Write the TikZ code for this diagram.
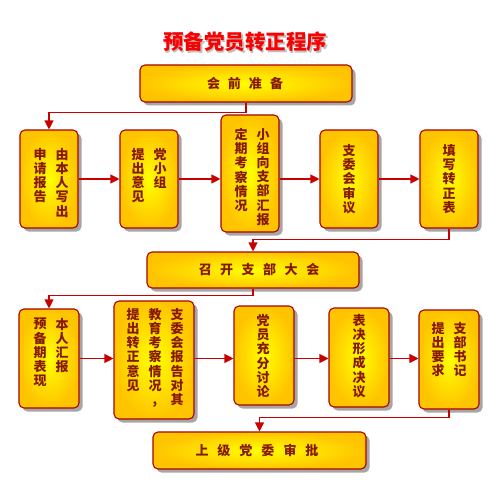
\documentclass[tikz,border=0pt]{standalone}
\usepackage{fontspec}
\setmainfont{Noto Sans CJK SC}
\usetikzlibrary{arrows.meta,shadows}
\definecolor{boxborder}{RGB}{170,0,0}
\definecolor{conncol}{RGB}{200,0,0}
\definecolor{txtcol}{RGB}{135,25,0}
\definecolor{ycenter}{RGB}{255,255,0}
\definecolor{yedge}{RGB}{255,196,0}
\definecolor{titlecol}{RGB}{250,0,0}
\begin{document}
\begin{tikzpicture}[x=1pt,y=-1pt,
  box/.style={draw=boxborder, line width=1.1pt, rounded corners=5pt, inner sep=0pt,
    inner color=ycenter, outer color=yedge,
    drop shadow={shadow xshift=3.5pt, shadow yshift=-3.5pt, fill=black, opacity=0.35}},
  col/.style={anchor=north, align=center, inner sep=0pt, text=txtcol,
    font=\fontsize{13}{14.2}\selectfont\bfseries},
  ctr/.style={inner sep=0pt, align=center, text=txtcol, font=\fontsize{13}{14.2}\selectfont\bfseries},
  conn/.style={draw=conncol, line width=1.1pt, -{Triangle[length=9pt,width=9pt]}}
]
\useasboundingbox (0,0) rectangle (500,500);
% title
\node[text=black!50, opacity=0.5, font=\fontsize{20.5}{24}\selectfont\bfseries] at (246.5,43.5) {预备党员转正程序};
\node[text=titlecol, font=\fontsize{20.5}{24}\selectfont\bfseries] (title) at (245,42) {预备党员转正程序};
% boxes
\node[box, minimum width=212pt, minimum height=37pt] (hdr) at (246,83.5) {};
\node[box, minimum width=58pt, minimum height=98pt] (a1) at (49,179) {};
\node[box, minimum width=58pt, minimum height=98pt] (a2) at (149,179) {};
\node[box, minimum width=58pt, minimum height=117pt] (a3) at (250,173.5) {};
\node[box, minimum width=58pt, minimum height=98pt] (a4) at (349,179) {};
\node[box, minimum width=58pt, minimum height=98pt] (a5) at (449,179) {};
\node[box, minimum width=212pt, minimum height=36pt] (zk) at (253,270) {};
\node[box, minimum width=60pt, minimum height=99pt] (b1) at (49,358.5) {};
\node[box, minimum width=80pt, minimum height=118pt] (b2) at (154,360) {};
\node[box, minimum width=60pt, minimum height=99pt] (b3) at (264,355.5) {};
\node[box, minimum width=60pt, minimum height=99pt] (b4) at (359,357.5) {};
\node[box, minimum width=60pt, minimum height=99pt] (b5) at (449,359.5) {};
\node[box, minimum width=213pt, minimum height=37pt] (sj) at (259.5,450.5) {};
% texts
\node[ctr] (thdr) at (245,83.5) {会\hspace{8pt}前\hspace{8pt}准\hspace{8pt}备};
\node[ctr] (tzk) at (259,270) {召\hspace{8.5pt}开\hspace{8.5pt}支\hspace{8.5pt}部\hspace{8.5pt}大\hspace{8.5pt}会};
\node[ctr] (tsj) at (257,450.5) {上\hspace{9pt}级\hspace{9pt}党\hspace{9pt}委\hspace{9pt}审\hspace{9pt}批};
\node[col] (ta1r) at (62,148) {由\\本\\人\\写\\出};
\node[col] (ta1l) at (40,148) {申\\请\\报\\告};
\node[col] (ta2r) at (160,148) {党\\小\\组};
\node[col] (ta2l) at (138,148) {提\\出\\意\\见};
\node[col] (ta3r) at (263,128) {小\\组\\向\\支\\部\\汇\\报};
\node[col] (ta3l) at (241,128) {定\\期\\考\\察\\情\\况};
\node[ctr] (ta4) at (349,179) {支\\委\\会\\审\\议};
\node[ctr] (ta5) at (449,179) {填\\写\\转\\正\\表};
\node[col] (tb1r) at (62,318) {本\\人\\汇\\报};
\node[col] (tb1l) at (40,318) {预\\备\\期\\表\\现};
\node[col] (tb2r) at (177,308) {支\\委\\会\\报\\告\\对\\其};
\node[col] (tb2m) at (155,308) {教\\育\\考\\察\\情\\况\\,};
\node[col] (tb2l) at (133,308) {提\\出\\转\\正\\意\\见};
\node[ctr] (tb3) at (263,356) {党\\员\\充\\分\\讨\\论};
\node[ctr] (tb4) at (359,356) {表\\决\\形\\成\\决\\议};
\node[col] (tb5r) at (460,322) {支\\部\\书\\记};
\node[col] (tb5l) at (438,322) {提\\出\\要\\求};
% connectors
\draw[conn] (hdr.south) -- ++(0,10) -| (a1.north);
\draw[conn] (a1.east) -- (a2.west);
\draw[conn] (a2.east) -- (a2.east -| a3.west);
\draw[conn] (a2.east -| a3.east) -- (a4.west);
\draw[conn] (a4.east) -- (a5.west);
\draw[conn] (a5.south) -- ++(0,11) -| (zk.north);
\draw[conn] (zk.south) -- ++(0,7) -| (b1.north);
\draw[conn] (b1.east) -- (b1.east -| b2.west);
\draw[conn] (b1.east -| b2.east) -- (b1.east -| b3.west);
\draw[conn] (b1.east -| b3.east) -- (b1.east -| b4.west);
\draw[conn] (b1.east -| b4.east) -- (b1.east -| b5.west);
\draw[conn] (b5.south) -- ++(0,8) -| (sj.north);
\end{tikzpicture}
\end{document}
